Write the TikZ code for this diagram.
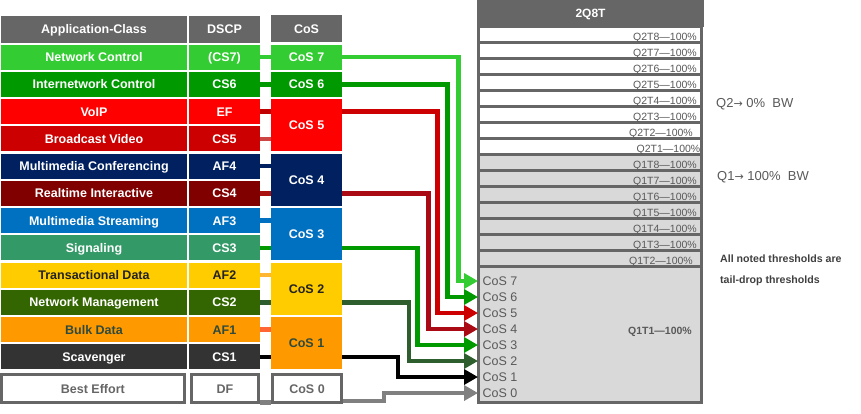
\documentclass[tikz,border=0pt]{standalone}
\usepackage{fontspec}
\setmainfont{Liberation Sans}
\newfontfamily\dejavu{DejaVu Sans}
\usetikzlibrary{arrows.meta}
\definecolor{hdrgray}{HTML}{666666}
\definecolor{ncgreen}{HTML}{33CC33}
\definecolor{icgreen}{HTML}{009900}
\definecolor{voipred}{HTML}{FF0000}
\definecolor{bvred}{HTML}{CC0000}
\definecolor{mmcnavy}{HTML}{002060}
\definecolor{rtmaroon}{HTML}{800000}
\definecolor{mmsblue}{HTML}{0070C0}
\definecolor{sigteal}{HTML}{339966}
\definecolor{tdyellow}{HTML}{FFCC00}
\definecolor{nmgreen}{HTML}{336600}
\definecolor{bdorange}{HTML}{FF9900}
\definecolor{scvgray}{HTML}{333333}
\definecolor{darktxt}{HTML}{222222}
\definecolor{bdtxt}{HTML}{2E4A3C}
\definecolor{q1gray}{HTML}{D9D9D9}
\definecolor{lbltxt}{HTML}{595959}
\definecolor{notetxt}{HTML}{404040}
\definecolor{stubred}{HTML}{C00000}
\definecolor{stubpink}{HTML}{CC4444}
\definecolor{stubmaroon}{HTML}{AA1111}
\definecolor{stubyellow}{HTML}{FFB733}
\definecolor{stubnm}{HTML}{2E5E2E}
\definecolor{stuborange}{HTML}{FF6633}
\definecolor{conngray}{HTML}{808080}
\definecolor{cosfiveline}{HTML}{CC0000}
\definecolor{cosfourline}{HTML}{AA0A14}
\begin{document}
\begin{tikzpicture}[x=1pt,y=-1pt,
  cell/.style={inner sep=0pt, outer sep=0pt, anchor=north west, minimum height=25pt, text height=9pt, text depth=0pt, font=\fontsize{12.5}{15}\selectfont\bfseries},
  appcell/.style={cell, minimum width=186pt},
  dscpcell/.style={cell, minimum width=71pt},
  coscell/.style={cell, minimum width=71pt},
  hdrcell/.style={cell, fill=hdrgray, text=white, minimum height=27pt},
  becell/.style={cell, draw=hdrgray, line width=3pt, fill=white, text=hdrgray, minimum height=27.7pt},
  stub/.style={line width=4.5pt},
  conn/.style={line width=4.5pt, -{Triangle[length=14pt,width=15pt]}},
  qsep/.style={hdrgray, line width=2.7pt},
  qlbl/.style={inner sep=0pt, anchor=east, text=lbltxt, text height=7.6pt, text depth=0pt, font=\fontsize{10.5}{12}\selectfont},
  coslbl/.style={inner sep=0pt, anchor=west, text=lbltxt, text height=9pt, text depth=0pt, font=\fontsize{12.5}{15}\selectfont},
  bwtext/.style={inner sep=0pt, anchor=west, text=lbltxt, text height=9.3pt, text depth=0pt, font=\fontsize{13}{15}\selectfont},
  notetext/.style={inner sep=0pt, anchor=west, text=notetxt, text height=7.8pt, text depth=0pt, font=\fontsize{10.6}{12}\selectfont\bfseries}
]
\useasboundingbox (0,0) rectangle (861,413);

% headers
\node[hdrcell, minimum width=186pt] (hApp) at (1,15.7) {Application-Class};
\node[hdrcell, minimum width=71pt] (hDscp) at (189,15.7) {DSCP};
\node[hdrcell, minimum width=71pt] (hCos) at (271,15.2) {CoS};

% rows
\foreach \k/\app/\ds/\fc/\tc in {
 1/Network Control/{(CS7)}/ncgreen/white,
 2/Internetwork Control/CS6/icgreen/white,
 3/VoIP/EF/voipred/white,
 4/Broadcast Video/CS5/bvred/white,
 5/Multimedia Conferencing/AF4/mmcnavy/white,
 6/Realtime Interactive/CS4/rtmaroon/white,
 7/Multimedia Streaming/AF3/mmsblue/white,
 8/Signaling/CS3/sigteal/white,
 9/Transactional Data/AF2/tdyellow/darktxt,
 10/Network Management/CS2/nmgreen/white,
 11/Bulk Data/AF1/bdorange/bdtxt,
 12/Scavenger/CS1/scvgray/white}
{
 \pgfmathsetmacro\yt{44.5+27.25*(\k-1)}
 \node[appcell, fill=\fc, text=\tc] (r\k) at (1,\yt) {\app};
 \node[dscpcell, fill=\fc, text=\tc] (d\k) at (189,\yt) {\ds};
}
\node[becell, minimum width=182.7pt] (r13) at (1.5,374.8) {Best Effort};
\node[becell, minimum width=67pt] (d13) at (191.5,374.8) {DF};

% CoS boxes
\node[coscell, fill=ncgreen, text=white] (c7) at (271,44.5) {CoS 7};
\node[coscell, fill=icgreen, text=white] (c6) at (271,71.75) {CoS 6};
\node[coscell, fill=voipred, text=white, minimum height=52.25pt] (c5) at (271,99) {CoS 5};
\node[coscell, fill=mmcnavy, text=white, minimum height=52.25pt] (c4) at (271,153.5) {CoS 4};
\node[coscell, fill=mmsblue, text=white, minimum height=52.25pt] (c3) at (271,208) {CoS 3};
\node[coscell, fill=tdyellow, text=darktxt, minimum height=52.25pt] (c2) at (271,262.5) {CoS 2};
\node[coscell, fill=bdorange, text=bdtxt, minimum height=52.25pt] (c1) at (271,317) {CoS 1};
\node[becell, minimum width=69pt] (c0) at (272.5,374.8) {CoS 0};

% stubs
\draw[stub, ncgreen] (d1.east) -- (d1.east -| c7.west);
\draw[stub, icgreen] (d2.east) -- (d2.east -| c6.west);
\draw[stub, stubred] (d3.east) -- (d3.east -| c5.west);
\draw[stub, stubpink] (d4.east) -- (d4.east -| c5.west);
\draw[stub, mmcnavy] (d5.east) -- (d5.east -| c4.west);
\draw[stub, stubmaroon] (d6.east) -- (d6.east -| c4.west);
\draw[stub, mmsblue] (d7.east) -- (d7.east -| c3.west);
\draw[stub, icgreen] (d8.east) -- (d8.east -| c3.west);
\draw[stub, stubyellow] (d9.east) -- (d9.east -| c2.west);
\draw[stub, stubnm] (d10.east) -- (d10.east -| c2.west);
\draw[stub, stuborange] (d11.east) -- (d11.east -| c1.west);
\draw[stub, black] (d12.east) -- (d12.east -| c1.west);
\draw[stub, conngray] ([xshift=1.5pt]d13.south east) -- ([xshift=-1.5pt]c0.south west);

% 2Q8T box
\node[hdrcell, minimum width=227pt, minimum height=26.5pt, font=\fontsize{12}{14}\selectfont\bfseries] (qhdr) at (477,0) {2Q8T};
\foreach \j in {0,...,7} \fill[white] (478.5,{26.7+16*\j}) rectangle (701.5,{42.7+16*\j});
\fill[q1gray] (478.5,154.7) rectangle (701.5,402.5);
\foreach \j in {0,...,14} \draw[qsep] (478.5,{42.7+16*\j}) -- (701.5,{42.7+16*\j});
\draw[hdrgray, line width=3pt] (478.5,26.5) rectangle (701.5,402.5);

\foreach \j/\t/\xr in {0/Q2T8/697, 1/Q2T7/697, 2/Q2T6/697, 3/Q2T5/697, 4/Q2T4/697, 5/Q2T3/697, 6/Q2T2/693, 7/Q2T1/700.5,
  8/Q1T8/697, 9/Q1T7/697, 10/Q1T6/697, 11/Q1T5/697, 12/Q1T4/697, 13/Q1T3/697, 14/Q1T2/693}
  \node[qlbl] (ql\j) at (\xr,{36.3+16*\j}) {\t—100\%};
\node[qlbl, anchor=center, font=\fontsize{10.5}{12}\selectfont\bfseries] (ql15) at (660,330.7) {Q1T1—100\%};

\foreach \n/\y in {7/281,6/297,5/313,4/329,3/345,2/361,1/377,0/393} {
  \coordinate (t\n) at (478,\y);
  \node[coslbl] (k\n) at (482.5,\y) {CoS \n};
}

% connectors
\draw[conn, ncgreen] (c7.east) -| ([xshift=-19.5pt]t7) -- (t7);
\draw[conn, icgreen] (c6.east) -| ([xshift=-30.3pt]t6) -- (t6);
\draw[conn, cosfiveline] (c5.east |- r3.east) -| ([xshift=-40.3pt]t5) -- (t5);
\draw[conn, cosfourline] (c4.east |- r6.east) -| ([xshift=-49.7pt]t4) -- (t4);
\draw[conn, icgreen] (c3.east |- r8.east) -| ([xshift=-60.5pt]t3) -- (t3);
\draw[conn, stubnm] (c2.east |- r10.east) -| ([xshift=-69pt]t2) -- (t2);
\draw[conn, black] (c1.east |- r12.east) -| ([xshift=-80.2pt]t1) -- (t1);
\draw[conn, conngray] ([xshift=1.5pt,yshift=1.5pt]c0.south east) -| ([xshift=-94pt]t0) -- (t0);

% right notes
\node[bwtext] (bw2) at (716,102.5) {Q2{\dejavu\fontsize{11}{13}\selectfont →} 0\%~ BW};
\node[bwtext] (bw1) at (717,176) {Q1{\dejavu\fontsize{11}{13}\selectfont →} 100\%~ BW};
\node[notetext] (n1) at (720,259) {All noted thresholds are};
\node[notetext] (n2) at (720,279.5) {tail-drop thresholds};
\end{tikzpicture}
\end{document}
